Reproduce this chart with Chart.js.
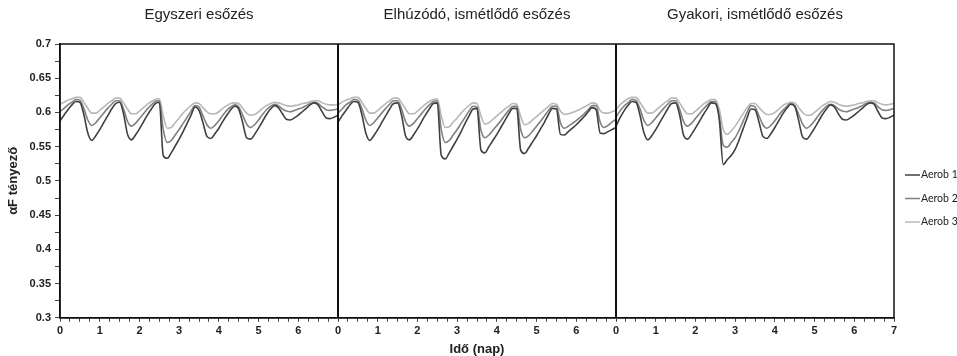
<!DOCTYPE html>
<html>
<head>
<meta charset="utf-8">
<script src="https://cdn.jsdelivr.net/npm/chart.js@4.4.1/dist/chart.umd.min.js"></script>
<style>
  html, body { margin: 0; padding: 0; background: #fff; }
  #wrap { width: 957px; height: 356px; }
</style>
</head>
<body>
<div id="wrap"><canvas id="chartAerob" width="957" height="356"></canvas></div>
<script>
// idő (nap) minden panelen
const days = [0, 0.1, 0.2, 0.3, 0.4, 0.5, 0.6, 0.7, 0.8, 0.9,
  1, 1.1, 1.2, 1.3, 1.4, 1.5, 1.6, 1.7, 1.8, 1.9,
  2, 2.1, 2.2, 2.3, 2.4, 2.5, 2.6, 2.7, 2.8, 2.9,
  3, 3.1, 3.2, 3.3, 3.4, 3.5, 3.6, 3.7, 3.8, 3.9,
  4, 4.1, 4.2, 4.3, 4.4, 4.5, 4.6, 4.7, 4.8, 4.9,
  5, 5.1, 5.2, 5.3, 5.4, 5.5, 5.6, 5.7, 5.8, 5.9,
  6, 6.1, 6.2, 6.3, 6.4, 6.5, 6.6, 6.7, 6.8, 6.9, 7];

const panelTitles = ['Egyszeri esőzés', 'Elhúzódó, ismétlődő esőzés', 'Gyakori, ismétlődő esőzés'];
const seriesNames = ['Aerob 1', 'Aerob 2', 'Aerob 3'];
const seriesColors = ['#3f3f3f', '#808080', '#b8b8b8'];

// Egyszeri esőzés
const aerob1Egyszeri = [0.588, 0.596, 0.604, 0.611, 0.616, 0.615, 0.597, 0.570, 0.559, 0.566,
  0.575, 0.585, 0.595, 0.605, 0.613, 0.615, 0.598, 0.568, 0.560, 0.567,
  0.576, 0.586, 0.596, 0.605, 0.613, 0.615, 0.537, 0.533, 0.541, 0.551,
  0.561, 0.572, 0.584, 0.596, 0.608, 0.603, 0.585, 0.565, 0.562, 0.569,
  0.577, 0.587, 0.596, 0.604, 0.609, 0.605, 0.585, 0.563, 0.561, 0.568,
  0.577, 0.587, 0.597, 0.605, 0.610, 0.607, 0.598, 0.590, 0.589, 0.592,
  0.596, 0.601, 0.606, 0.611, 0.614, 0.611, 0.601, 0.592, 0.591, 0.593, 0.596];
const aerob2Egyszeri = [0.601, 0.606, 0.611, 0.615, 0.619, 0.618, 0.606, 0.589, 0.581, 0.585,
  0.592, 0.599, 0.606, 0.612, 0.617, 0.617, 0.605, 0.587, 0.580, 0.584,
  0.591, 0.598, 0.605, 0.611, 0.616, 0.617, 0.575, 0.556, 0.559, 0.567,
  0.575, 0.584, 0.593, 0.602, 0.610, 0.608, 0.595, 0.582, 0.577, 0.581,
  0.588, 0.596, 0.603, 0.608, 0.611, 0.608, 0.596, 0.583, 0.578, 0.582,
  0.589, 0.597, 0.604, 0.609, 0.612, 0.610, 0.605, 0.602, 0.601, 0.603,
  0.605, 0.607, 0.610, 0.613, 0.615, 0.613, 0.608, 0.604, 0.603, 0.604, 0.605];
const aerob3Egyszeri = [0.612, 0.615, 0.618, 0.620, 0.622, 0.622, 0.615, 0.606, 0.599, 0.599,
  0.603, 0.608, 0.613, 0.617, 0.621, 0.621, 0.614, 0.605, 0.598, 0.598,
  0.602, 0.607, 0.612, 0.616, 0.619, 0.620, 0.595, 0.577, 0.578, 0.585,
  0.592, 0.599, 0.605, 0.610, 0.614, 0.613, 0.607, 0.601, 0.598, 0.598,
  0.601, 0.606, 0.610, 0.613, 0.614, 0.613, 0.606, 0.599, 0.596, 0.597,
  0.601, 0.606, 0.610, 0.613, 0.615, 0.614, 0.612, 0.610, 0.609, 0.610,
  0.611, 0.613, 0.614, 0.616, 0.617, 0.617, 0.614, 0.612, 0.611, 0.611, 0.612];

// Elhúzódó, ismétlődő esőzés
const aerob1Elhuzodo = [0.586, 0.595, 0.603, 0.611, 0.616, 0.615, 0.597, 0.570, 0.559, 0.566,
  0.575, 0.585, 0.595, 0.605, 0.613, 0.614, 0.596, 0.566, 0.560, 0.567,
  0.576, 0.586, 0.596, 0.605, 0.613, 0.614, 0.537, 0.532, 0.541, 0.551,
  0.561, 0.572, 0.584, 0.595, 0.605, 0.606, 0.545, 0.541, 0.550, 0.559,
  0.568, 0.578, 0.588, 0.598, 0.606, 0.606, 0.545, 0.540, 0.548, 0.557,
  0.566, 0.576, 0.586, 0.597, 0.606, 0.605, 0.568, 0.567, 0.572, 0.577,
  0.582, 0.588, 0.594, 0.601, 0.607, 0.604, 0.570, 0.569, 0.572, 0.575, 0.578];
const aerob2Elhuzodo = [0.599, 0.605, 0.611, 0.615, 0.619, 0.618, 0.606, 0.589, 0.581, 0.585,
  0.592, 0.599, 0.606, 0.612, 0.617, 0.617, 0.605, 0.587, 0.580, 0.584,
  0.591, 0.598, 0.605, 0.611, 0.616, 0.617, 0.575, 0.556, 0.559, 0.567,
  0.575, 0.584, 0.593, 0.602, 0.609, 0.608, 0.574, 0.563, 0.567, 0.574,
  0.581, 0.588, 0.596, 0.603, 0.609, 0.609, 0.575, 0.563, 0.566, 0.573,
  0.580, 0.587, 0.595, 0.603, 0.609, 0.609, 0.585, 0.577, 0.580, 0.584,
  0.588, 0.593, 0.598, 0.604, 0.610, 0.610, 0.586, 0.578, 0.581, 0.586, 0.590];
const aerob3Elhuzodo = [0.611, 0.615, 0.618, 0.620, 0.622, 0.622, 0.615, 0.606, 0.599, 0.599,
  0.603, 0.608, 0.613, 0.617, 0.621, 0.621, 0.614, 0.605, 0.598, 0.598,
  0.602, 0.607, 0.612, 0.616, 0.619, 0.620, 0.595, 0.578, 0.579, 0.586,
  0.592, 0.599, 0.605, 0.610, 0.614, 0.613, 0.595, 0.583, 0.585, 0.590,
  0.595, 0.600, 0.605, 0.609, 0.613, 0.612, 0.594, 0.582, 0.584, 0.589,
  0.594, 0.599, 0.604, 0.609, 0.613, 0.612, 0.602, 0.597, 0.598, 0.600,
  0.602, 0.605, 0.608, 0.611, 0.614, 0.613, 0.603, 0.599, 0.599, 0.601, 0.603];

// Gyakori, ismétlődő esőzés
const aerob1Gyakori = [0.580, 0.592, 0.602, 0.610, 0.616, 0.615, 0.597, 0.571, 0.560, 0.566,
  0.575, 0.585, 0.595, 0.605, 0.613, 0.614, 0.597, 0.567, 0.561, 0.568,
  0.577, 0.587, 0.597, 0.606, 0.614, 0.613, 0.590, 0.524, 0.531, 0.537,
  0.546, 0.560, 0.576, 0.592, 0.605, 0.604, 0.586, 0.565, 0.562, 0.569,
  0.578, 0.588, 0.598, 0.606, 0.612, 0.609, 0.588, 0.564, 0.561, 0.568,
  0.577, 0.587, 0.597, 0.605, 0.611, 0.608, 0.598, 0.590, 0.589, 0.592,
  0.596, 0.601, 0.606, 0.611, 0.614, 0.612, 0.601, 0.592, 0.591, 0.593, 0.596];
const aerob2Gyakori = [0.593, 0.602, 0.609, 0.614, 0.619, 0.618, 0.606, 0.589, 0.581, 0.585,
  0.592, 0.599, 0.606, 0.612, 0.617, 0.617, 0.605, 0.587, 0.580, 0.584,
  0.591, 0.598, 0.605, 0.611, 0.616, 0.616, 0.595, 0.552, 0.549, 0.556,
  0.563, 0.574, 0.587, 0.600, 0.610, 0.608, 0.595, 0.582, 0.577, 0.581,
  0.588, 0.596, 0.603, 0.609, 0.613, 0.610, 0.597, 0.583, 0.577, 0.581,
  0.588, 0.596, 0.603, 0.609, 0.612, 0.610, 0.605, 0.602, 0.601, 0.603,
  0.605, 0.607, 0.610, 0.613, 0.615, 0.614, 0.608, 0.604, 0.603, 0.604, 0.606];
const aerob3Gyakori = [0.604, 0.611, 0.616, 0.620, 0.622, 0.622, 0.615, 0.606, 0.599, 0.599,
  0.603, 0.608, 0.613, 0.617, 0.621, 0.621, 0.614, 0.605, 0.598, 0.598,
  0.602, 0.607, 0.612, 0.616, 0.619, 0.619, 0.605, 0.575, 0.568, 0.573,
  0.580, 0.589, 0.598, 0.607, 0.613, 0.613, 0.607, 0.601, 0.597, 0.597,
  0.600, 0.605, 0.610, 0.613, 0.615, 0.614, 0.607, 0.600, 0.596, 0.596,
  0.600, 0.605, 0.610, 0.613, 0.616, 0.615, 0.612, 0.610, 0.609, 0.610,
  0.611, 0.613, 0.614, 0.616, 0.617, 0.617, 0.614, 0.612, 0.611, 0.612, 0.613];

const yTicksMin = 0.3;
const yTicksMax = 0.7;

// három panel egymás után, panelenként 7 nap
function toPoints(panels) {
    let pts = [];
    panels.forEach((vals, p) => {
        if (p > 0) pts.push({ x: p * 7, y: null });
        vals.forEach((v, i) => pts.push({ x: days[i] + p * 7, y: v }));
    });
    return pts;
}

const seriesData = [
    toPoints([aerob1Egyszeri, aerob1Elhuzodo, aerob1Gyakori]),
    toPoints([aerob2Egyszeri, aerob2Elhuzodo, aerob2Gyakori]),
    toPoints([aerob3Egyszeri, aerob3Elhuzodo, aerob3Gyakori])
];

const datasets = seriesNames.map((name, i) => ({
    label: name,
    data: seriesData[i],
    borderColor: seriesColors[i],
    backgroundColor: seriesColors[i],
    borderWidth: 1.6,
    pointRadius: 0,
    cubicInterpolationMode: 'monotone',
    spanGaps: false,
    order: i
}));

const tickFont = { family: 'Liberation Sans, Arial, sans-serif', size: 11, weight: 'bold' };

// keret, panelválasztók, panelcímek, jelmagyarázat
const panelPlugin = {
    id: 'panels',
    afterDatasetsDraw(chart) {
        const ctx = chart.ctx;
        const area = chart.chartArea;
        const xs = chart.scales.x;
        ctx.save();
        ctx.strokeStyle = '#111';
        ctx.lineWidth = 1.5;
        ctx.strokeRect(area.left, area.top, area.right - area.left, area.bottom - area.top);
        ctx.lineWidth = 2;
        [7, 14].forEach(v => {
            const px = xs.getPixelForValue(v);
            ctx.beginPath();
            ctx.moveTo(px, area.top);
            ctx.lineTo(px, area.bottom);
            ctx.stroke();
        });
        ctx.fillStyle = '#222';
        ctx.font = '15px "Liberation Sans", Arial, sans-serif';
        ctx.textAlign = 'center';
        ctx.textBaseline = 'middle';
        panelTitles.forEach((t, i) => {
            ctx.fillText(t, xs.getPixelForValue(3.5 + i * 7), 15);
        });
        // jelmagyarázat
        ctx.font = '10.5px Lato, "Open Sans", sans-serif';
        ctx.textAlign = 'left';
        chart.data.datasets.forEach((ds, i) => {
            const y = area.top + 131 + i * 23.5;
            ctx.strokeStyle = ds.borderColor;
            ctx.lineWidth = 1.5;
            ctx.beginPath();
            ctx.moveTo(area.right + 11, y);
            ctx.lineTo(area.right + 26, y);
            ctx.stroke();
            ctx.fillStyle = '#222';
            ctx.fillText(ds.label, area.right + 27, y);
        });
        ctx.restore();
    }
};

const config = {
    type: 'line',
    data: { datasets: datasets },
    options: {
        responsive: false,
        animation: false,
        layout: { padding: { top: 44, right: 63, left: 2, bottom: 0 } },
        plugins: {
            legend: { display: false },
            tooltip: { enabled: false }
        },
        scales: {
            x: {
                type: 'linear',
                min: 0,
                max: 21,
                border: { display: true, color: '#111', width: 1.5 },
                grid: { drawOnChartArea: false, drawTicks: true, tickLength: 4, tickColor: '#444', tickWidth: 1 },
                ticks: {
                    stepSize: 0.25,
                    autoSkip: false,
                    maxRotation: 0,
                    padding: 3,
                    color: '#222',
                    font: tickFont,
                    callback: function (v) {
                        const r = Math.round(v * 100) / 100;
                        if (!Number.isInteger(r)) return '';
                        return r === 21 ? '7' : String(r % 7);
                    }
                },
                title: {
                    display: true,
                    text: 'Idő (nap)',
                    color: '#222',
                    font: { family: 'Liberation Sans, Arial, sans-serif', size: 13, weight: 'bold', lineHeight: 1 },
                    padding: { top: 2, bottom: 0 }
                }
            },
            y: {
                min: yTicksMin,
                max: yTicksMax,
                border: { display: true, color: '#111', width: 1.5 },
                grid: { drawOnChartArea: false, drawTicks: true, tickLength: 5, tickColor: '#444', tickWidth: 1 },
                ticks: {
                    stepSize: 0.025,
                    autoSkip: false,
                    padding: 4,
                    color: '#222',
                    font: tickFont,
                    callback: function (v) {
                        const m = Math.round(v * 1000);
                        if (m % 50 !== 0) return '';
                        return String(m / 1000);
                    }
                },
                title: {
                    display: true,
                    text: 'αF tényező',
                    color: '#222',
                    font: { family: 'Liberation Sans, Arial, sans-serif', size: 13, weight: 'bold' },
                    padding: { top: 4, bottom: 4 }
                }
            }
        }
    },
    plugins: [panelPlugin]
};

let myChart = new Chart('chartAerob', config);
</script>
</body>
</html>
